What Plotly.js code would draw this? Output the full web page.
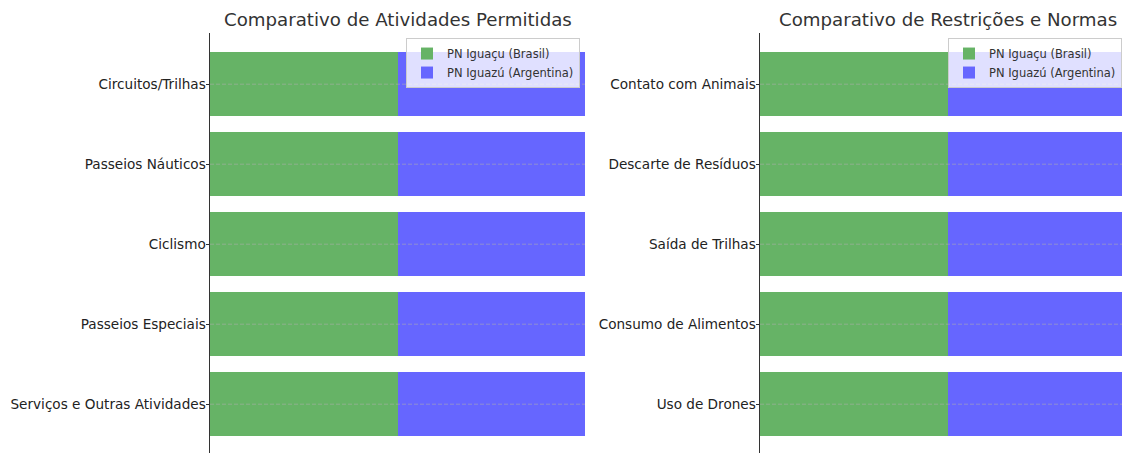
<!DOCTYPE html>
<html>
<head>
<meta charset="utf-8">
<script src="https://cdn.plot.ly/plotly-3.0.1.min.js"></script>
<style>html,body{margin:0;padding:0;background:#fff;}</style>
</head>
<body>
<div id="chart" style="width:1122px;height:453px;"></div>
<script>
const activities = ["Circuitos/Trilhas", "Passeios Náuticos", "Ciclismo", "Passeios Especiais", "Serviços e Outras Atividades"];
const restrictions = ["Contato com Animais", "Descarte de Resíduos", "Saída de Trilhas", "Consumo de Alimentos", "Uso de Drones"];
const brasilActivities = [1, 1, 1, 1, 1];
const argentinaActivities = [1, 1, 1, 1, 1];
const brasilRestrictions = [1, 1, 1, 1, 1];
const argentinaRestrictions = [1, 1, 1, 1, 1];
const seriesNames = ["PN Iguaçu (Brasil)", "PN Iguazú (Argentina)"];
const titles = ["Comparativo de Atividades Permitidas", "Comparativo de Restrições e Normas"];

const green = "#66b366";
const blue = "#6666ff";
const font = "DejaVu Sans, sans-serif";

const traces = [
  {type: "bar", orientation: "h", y: activities, x: brasilActivities, name: seriesNames[0], marker: {color: green}, xaxis: "x", yaxis: "y", legend: "legend"},
  {type: "bar", orientation: "h", y: activities, x: argentinaActivities, name: seriesNames[1], marker: {color: blue}, xaxis: "x", yaxis: "y", legend: "legend"},
  {type: "bar", orientation: "h", y: restrictions, x: brasilRestrictions, name: seriesNames[0], marker: {color: green}, xaxis: "x2", yaxis: "y2", legend: "legend2"},
  {type: "bar", orientation: "h", y: restrictions, x: argentinaRestrictions, name: seriesNames[1], marker: {color: blue}, xaxis: "x2", yaxis: "y2", legend: "legend2"}
];

const gridLine = {color: "rgba(176,176,176,0.7)", width: 0.8, dash: "4px,2px"};
const gridShapes = [];
activities.forEach(c => gridShapes.push({type: "line", xref: "x domain", yref: "y", x0: 0, x1: 1, y0: c, y1: c, layer: "above", line: gridLine}));
restrictions.forEach(c => gridShapes.push({type: "line", xref: "x2 domain", yref: "y2", x0: 0, x1: 1, y0: c, y1: c, layer: "above", line: gridLine}));

const yCommon = {
  type: "category", range: [4.61, -0.64], showgrid: false, zeroline: false,
  showline: true, linecolor: "#333", linewidth: 1,
  ticks: "outside", ticklen: 3.5, tickcolor: "#333", tickwidth: 1,
  ticklabelstandoff: -3,
  tickfont: {family: font, size: 13.6, color: "#222"}, automargin: false
};
const xCommon = {showticklabels: false, showgrid: false, zeroline: false, showline: false, ticks: ""};

const legendCommon = {
  font: {family: font, size: 11.5, color: "#333"}, bgcolor: "rgba(255,255,255,0.8)",
  bordercolor: "#cccccc", borderwidth: 1, xanchor: "right", yanchor: "top", y: 0.988,
  tracegroupgap: 0, itemwidth: 30, traceorder: "normal"
};

const layout = {
  width: 1122, height: 453,
  margin: {l: 0, r: 0, t: 33, b: 0},
  paper_bgcolor: "#fff", plot_bgcolor: "#fff",
  barmode: "stack", bargap: 0.2,
  showlegend: true,
  xaxis: Object.assign({}, xCommon, {domain: [210/1122, 585/1122], range: [0, 2], anchor: "y"}),
  xaxis2: Object.assign({}, xCommon, {domain: [760/1122, 1], range: [0, 362/188], anchor: "y2"}),
  yaxis: Object.assign({}, yCommon, {anchor: "x"}),
  yaxis2: Object.assign({}, yCommon, {anchor: "x2"}),
  legend: Object.assign({}, legendCommon, {x: 580/1122}),
  legend2: Object.assign({}, legendCommon, {x: 1.0}),
  shapes: gridShapes,
  annotations: [
    {text: titles[0], xref: "paper", yref: "paper", x: 398/1122, xanchor: "center", y: 1, yanchor: "bottom", yshift: 1, showarrow: false, font: {family: font, size: 18.2, color: "#333"}},
    {text: titles[1], xref: "paper", yref: "paper", x: 948/1122, xanchor: "center", y: 1, yanchor: "bottom", yshift: 1, showarrow: false, font: {family: font, size: 18.2, color: "#333"}}
  ]
};

Plotly.newPlot("chart", traces, layout, {displayModeBar: false, staticPlot: true});
</script>
</body>
</html>
